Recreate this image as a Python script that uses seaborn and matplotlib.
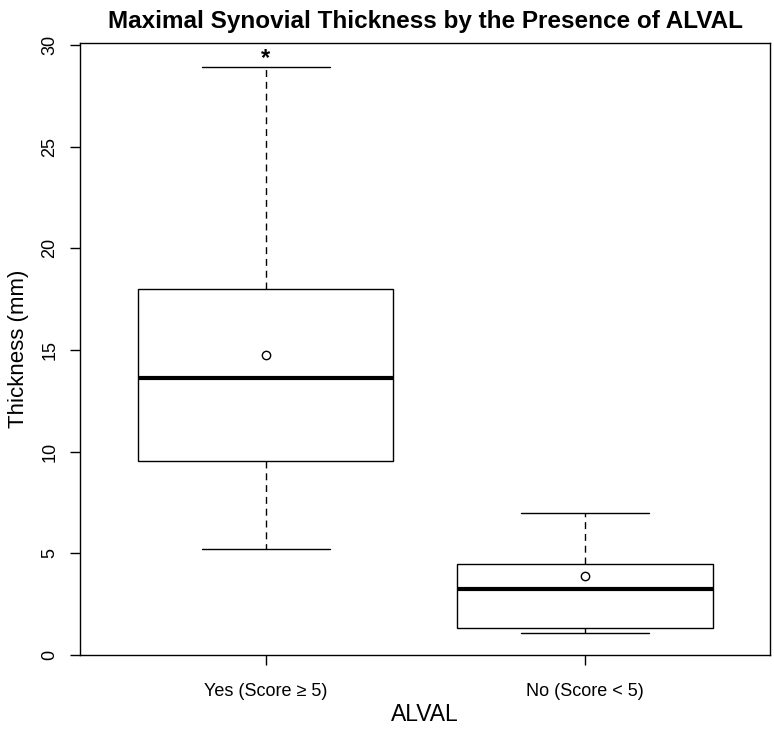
import matplotlib
matplotlib.use("Agg")
import matplotlib.pyplot as plt
import numpy as np
import pandas as pd
import seaborn as sns

# five-number summaries (min, q1, median, q3, max)
categories = ["Yes (Score \u2265 5)", "No (Score < 5)"]
yes_summary = [5.2, 9.55, 13.6, 18.0, 28.9]
no_summary = [1.06, 1.32, 3.25, 4.47, 7.0]
group_means = [14.75, 3.9]

sns.set_theme(style="white")
plt.rcParams["font.family"] = ["Liberation Sans", "DejaVu Sans"]
plt.rcParams.update({"text.color": "black", "axes.labelcolor": "black",
                     "xtick.color": "black", "ytick.color": "black"})

df = pd.DataFrame({
    "group": [categories[0]] * len(yes_summary) + [categories[1]] * len(no_summary),
    "thickness": yes_summary + no_summary,
})

fig = plt.figure(figsize=(7.74, 7.29), dpi=100)
ax = fig.add_axes([0.104, 0.1015, 0.891, 0.8395])

sns.boxplot(
    data=df, x="group", y="thickness", order=categories, ax=ax,
    whis=np.inf, width=0.8, color="white", linecolor="black", linewidth=1,
    medianprops=dict(linewidth=3, color="black"),
    whiskerprops=dict(linestyle=(0, (5, 3.5)), color="black"),
    capprops=dict(color="black"),
)

means_df = pd.DataFrame({"group": categories, "mean": group_means})
sns.pointplot(
    data=means_df, x="group", y="mean", order=categories, ax=ax,
    color="black", linestyle="none", marker="o", errorbar=None,
    markersize=6, markerfacecolor="white", markeredgewidth=1,
)

ax.text(0, 29.35, "*", ha="center", va="center", fontsize=17, fontweight="bold")

ax.set_xlim(-0.58, 1.58)
ax.set_ylim(0, 30.1)
ax.set_yticks([0, 5, 10, 15, 20, 25, 30])
for lab in ax.get_yticklabels():
    lab.set_rotation(90)
    lab.set_va("center")
ax.tick_params(axis="both", direction="out", length=7, width=1, color="black",
               labelsize=13, bottom=True, left=True)
ax.tick_params(axis="x", pad=13)
ax.tick_params(axis="y", pad=9)
for s in ax.spines.values():
    s.set_color("black")
    s.set_linewidth(1)

ax.set_xlabel("ALVAL", fontsize=16.5, labelpad=2)
ax.set_ylabel("Thickness (mm)", fontsize=16, labelpad=9)
ax.set_title("Maximal Synovial Thickness by the Presence of ALVAL",
             fontsize=17.5, fontweight="bold", pad=11)

fig.savefig("out.png", dpi=100)
